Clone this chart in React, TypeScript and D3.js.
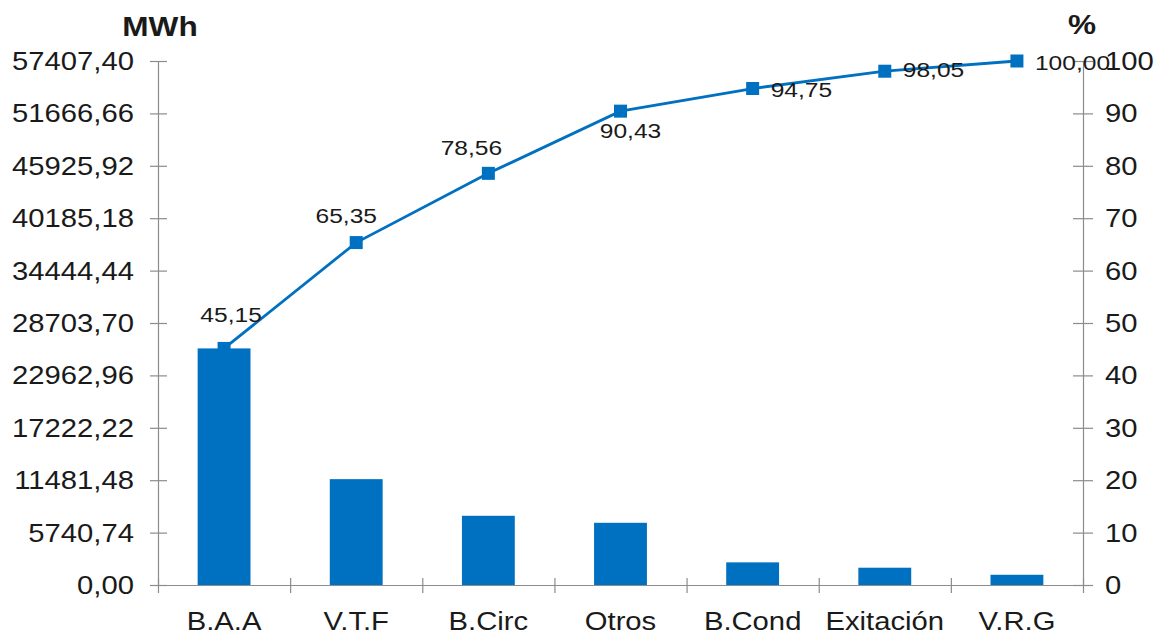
import React from "react";
import * as d3 from "d3";

// Energy losses by cause (MWh) with cumulative share (%)
const categories = ["B.A.A", "V.T.F", "B.Circ", "Otros", "B.Cond", "Exitación", "V.R.G"];
const energyMWh = [25919.44, 11596.29, 7583.52, 6814.26, 2480.0, 1894.44, 1119.44];
const cumulativePct = [45.15, 65.35, 78.56, 90.43, 94.75, 98.05, 100.0];
const leftTicks = [0, 5740.74, 11481.48, 17222.22, 22962.96, 28703.7, 34444.44, 40185.18, 45925.92, 51666.66, 57407.4];
const rightTicks = [0, 10, 20, 30, 40, 50, 60, 70, 80, 90, 100];

// label placement relative to each marker: [anchor, dx, dy]
const labelPlacement: [string, number, number][] = [
  ["middle", 7, -26],
  ["middle", -10, -20],
  ["middle", -17, -18],
  ["middle", 10, 27],
  ["start", 18, 8],
  ["start", 18, 6],
  ["start", 18, 9],
];

const W = 1163;
const H = 637;
const X0 = 158;
const X1 = 1083;
const Y0 = 61;
const Y1 = 585;
const BLUE = "#0070C0";
const AXIS = "#8c8c8c";
const FONT = "'Liberation Sans', Arial, sans-serif";
const SX = 1.17;

const fmt = (v: number) => v.toFixed(2).replace(".", ",");

function SText(props: {
  x: number;
  y: number;
  anchor?: string;
  size: number;
  weight?: string | number;
  children: React.ReactNode;
}) {
  const { x, y, anchor = "start", size, weight = "normal", children } = props;
  return (
    <text
      transform={`translate(${x},${y}) scale(${SX},1)`}
      textAnchor={anchor}
      fontSize={size}
      fontWeight={weight}
      fontFamily={FONT}
      fill="#1a1a1a"
    >
      {children}
    </text>
  );
}

export default function App() {
  const x = d3.scaleBand<string>().domain(categories).range([X0, X1]).paddingInner(0.6).paddingOuter(0.3);
  const yL = d3.scaleLinear().domain([0, 57407.4]).range([Y1, Y0]);
  const yR = d3.scaleLinear().domain([0, 100]).range([Y1, Y0]);
  const step = (X1 - X0) / categories.length;
  const cx = (c: string) => (x(c) ?? 0) + x.bandwidth() / 2;

  const line = d3
    .line<number>()
    .x((_, i) => cx(categories[i]))
    .y((d) => yR(d));

  const boundaries = d3.range(categories.length + 1).map((i) => X0 + i * step);

  return (
    <svg
      width={W}
      height={H}
      style={{ position: "absolute", left: 0, top: 0, display: "block", background: "#fff" }}
    >
      {/* bars */}
      {categories.map((c, i) => (
        <rect
          key={c}
          x={x(c)}
          y={yL(energyMWh[i])}
          width={x.bandwidth()}
          height={Y1 - yL(energyMWh[i])}
          fill={BLUE}
        />
      ))}

      {/* axes */}
      <line x1={X0 + 0.5} x2={X0 + 0.5} y1={Y0} y2={Y1} stroke={AXIS} strokeWidth={1.2} />
      <line x1={X1 + 0.5} x2={X1 + 0.5} y1={Y0} y2={Y1} stroke={AXIS} strokeWidth={1.2} />
      <line x1={X0} x2={X1} y1={Y1 + 0.5} y2={Y1 + 0.5} stroke={AXIS} strokeWidth={1.2} />

      {leftTicks.map((t) => (
        <g key={"l" + t}>
          <line x1={X0 - 8} x2={X0 + 9} y1={yL(t) + 0.5} y2={yL(t) + 0.5} stroke={AXIS} strokeWidth={1.2} />
          <SText x={134} y={yL(t) + 9} anchor="end" size={25}>
            {fmt(t)}
          </SText>
        </g>
      ))}

      {rightTicks.map((t) => (
        <g key={"r" + t}>
          <line x1={X1 - 10} x2={X1 + 10} y1={yR(t) + 0.5} y2={yR(t) + 0.5} stroke={AXIS} strokeWidth={1.2} />
          <SText x={1105} y={yR(t) + 9} anchor="start" size={25}>
            {t}
          </SText>
        </g>
      ))}

      {boundaries.map((b, i) => (
        <line key={"b" + i} x1={b + 0.5} x2={b + 0.5} y1={Y1 - 7} y2={Y1 + 8} stroke={AXIS} strokeWidth={1.2} />
      ))}

      {categories.map((c) => (
        <SText key={"c" + c} x={cx(c)} y={630} anchor="middle" size={25}>
          {c}
        </SText>
      ))}

      {/* axis titles */}
      <SText x={160} y={36} anchor="middle" size={27} weight="bold">
        MWh
      </SText>
      <SText x={1082} y={34} anchor="middle" size={27} weight="bold">
        %
      </SText>

      {/* cumulative line */}
      <path d={line(cumulativePct) ?? ""} fill="none" stroke={BLUE} strokeWidth={2.8} />
      {cumulativePct.map((p, i) => (
        <rect
          key={"m" + i}
          x={cx(categories[i]) - 6.5}
          y={yR(p) - 6.5}
          width={13}
          height={13}
          fill={BLUE}
        />
      ))}
      {cumulativePct.map((p, i) => {
        const [anchor, dx, dy] = labelPlacement[i];
        return (
          <SText key={"v" + i} x={cx(categories[i]) + dx} y={yR(p) + dy} anchor={anchor} size={21}>
            {fmt(p)}
          </SText>
        );
      })}
    </svg>
  );
}
